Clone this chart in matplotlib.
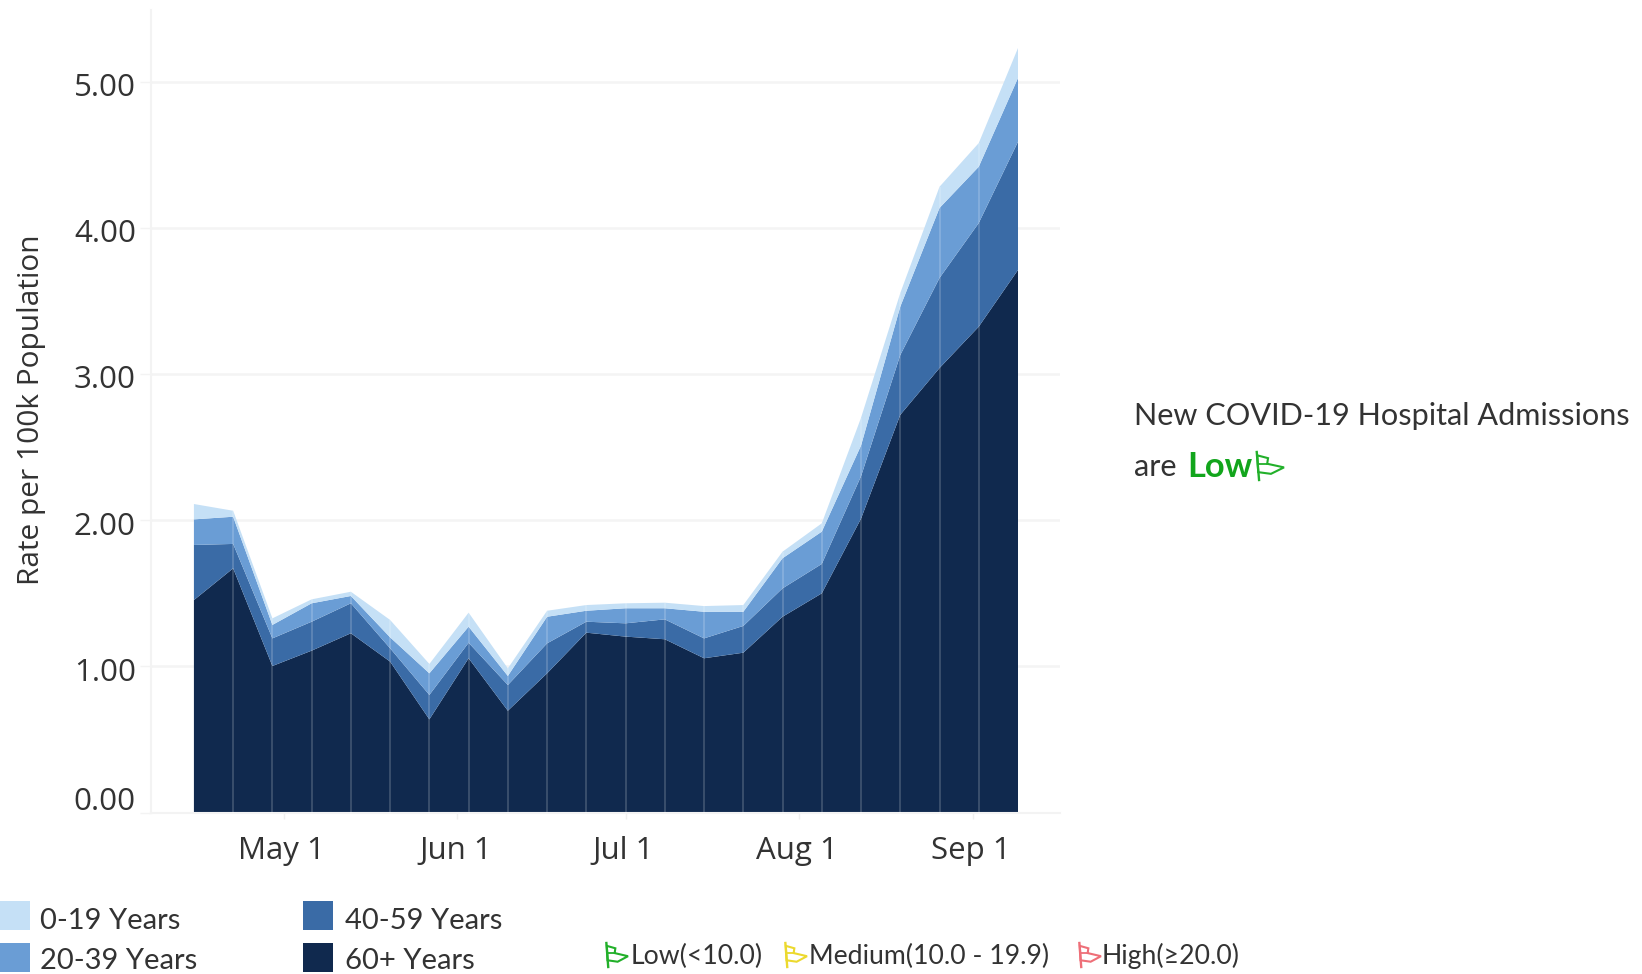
import numpy as np
import pandas as pd
import matplotlib
matplotlib.use("Agg")
import matplotlib.pyplot as plt
import matplotlib.dates as mdates
from matplotlib.lines import Line2D
from matplotlib.patches import Rectangle, Polygon
from matplotlib.transforms import ScaledTranslation

W, H = 1642, 974
weeks = pd.date_range("2023-04-15", periods=22, freq="7D")
age_60 = [1.453,1.670,1.002,1.107,1.226,1.032,0.637,1.055,0.696,0.952,1.230,1.203,1.185,1.055,1.093,1.339,1.499,2.010,2.720,3.040,3.323,3.711]
age_40 = [0.377,0.167,0.189,0.198,0.205,0.091,0.167,0.106,0.176,0.205,0.075,0.091,0.136,0.136,0.183,0.194,0.201,0.290,0.409,0.616,0.709,0.877]
age_20 = [0.175,0.186,0.092,0.126,0.050,0.075,0.148,0.110,0.062,0.182,0.075,0.103,0.076,0.182,0.097,0.206,0.221,0.210,0.331,0.479,0.385,0.436]
age_0 = [0.105,0.041,0.045,0.027,0.029,0.119,0.064,0.096,0.052,0.041,0.039,0.034,0.038,0.039,0.046,0.045,0.057,0.190,0.093,0.145,0.162,0.205]
y_ticks = [0, 1, 2, 3, 4, 5]
x_ticks = ["2023-05-01", "2023-06-01", "2023-07-01", "2023-08-01", "2023-09-01"]
x_labels = ["May 1", "Jun 1", "Jul 1", "Aug 1", "Sep 1"]
legend_names = ["0-19 Years", "20-39 Years", "40-59 Years", "60+ Years"]
colors = {"0": "#c5e0f6", "20": "#6a9dd5", "40": "#3a6ba6", "60": "#10294e"}
TXT = "#333333"
FONT = "Open Sans"

fig = plt.figure(figsize=(W / 100, H / 100), dpi=100, facecolor="white")
ax_l, ax_r, ax_t, ax_b = 151, 1060, 10, 812.5
ax = fig.add_axes([ax_l / W, 1 - ax_b / H, (ax_r - ax_l) / W, (ax_b - ax_t) / H])

ax.stackplot(weeks, age_60, age_40, age_20, age_0,
             colors=[colors["60"], colors["40"], colors["20"], colors["0"]],
             linewidth=0, zorder=2)
totals = np.sum([age_60, age_40, age_20, age_0], axis=0)
ax.vlines(weeks[1:-1], 0, totals[1:-1], color="white", alpha=0.2, lw=1.2, zorder=3)

px_day = 5.606
x_end = mdates.date2num(weeks[-1])
ax.set_xlim(x_end - (1018 - ax_l) / px_day, x_end + (ax_r - 1018) / px_day)
ax.set_ylim(0, (ax_b - ax_t) / 146.2)

ax.set_yticks(y_ticks)
ax.set_yticklabels([f"{v:.2f}" for v in y_ticks], fontsize=22.5, color=TXT, family=FONT)
ax.set_xticks(pd.to_datetime(x_ticks))
ax.set_xticklabels(x_labels, fontsize=22.5, color=TXT, family=FONT)
ax.tick_params(axis="y", length=8, width=1, color="#f3f3f3", pad=0)
ax.tick_params(axis="x", length=4, width=1, color="#efefef", pad=13)


def nudge(label, dx, dy):
    label.set_transform(label.get_transform()
                        + ScaledTranslation(dx / 100, dy / 100, fig.dpi_scale_trans))


for tick, dy in zip(ax.yaxis.get_major_ticks(), [14, -3, -3, -3, -3, -3]):
    nudge(tick.label1, -4, dy)
for tick in ax.xaxis.get_major_ticks():
    nudge(tick.label1, -2, 0)

ax.grid(axis="y", color="#f4f4f4", lw=1.8, zorder=0)
ax.set_axisbelow(True)
for s in ["top", "right"]:
    ax.spines[s].set_visible(False)
for s in ["left", "bottom"]:
    ax.spines[s].set_color("#f3f3f3")
    ax.spines[s].set_linewidth(1.5)


def t(x, y, s, **kw):
    kw.setdefault("color", TXT)
    kw.setdefault("family", FONT)
    kw.setdefault("va", "center")
    return fig.text(x / W, 1 - y / H, s, **kw)


def flag(x, y, w, h, color):
    """Pennant icon: x,y is the top-left corner in pixels."""
    def P(a, b):
        return ((x + a * w) / W, 1 - (y + b * h) / H)
    fig.add_artist(Line2D(*zip(P(0.06, 0.0), P(0.14, 1.0)), color=color, lw=1.7,
                          transform=fig.transFigure))
    fig.add_artist(Polygon([P(0.08, 0.12), P(0.45, 0.22), P(0.42, 0.42), P(1.0, 0.55),
                            P(0.55, 0.78), P(0.11, 0.72)], closed=True, fill=False,
                           edgecolor=color, lw=1.5, transform=fig.transFigure))
    fig.add_artist(Line2D(*zip(P(0.10, 0.42), P(0.42, 0.42)), color=color, lw=1.3,
                          transform=fig.transFigure))


t(32, 410, "Rate per 100k Population", rotation=90, ha="center", fontsize=21.5)

# age legend
swatches = [(0, 900.5, colors["0"]), (0, 942.5, colors["20"]),
            (303, 900.5, colors["40"]), (303, 942.5, colors["60"])]
labels_pos = [(40, 921), (40, 961), (344.5, 921), (344.5, 961)]
for (sx, sy, c), (lx, ly), name in zip(swatches, labels_pos, legend_names):
    fig.add_artist(Rectangle((sx / W, 1 - (sy + 29.5) / H), 29.5 / W, 29.5 / H,
                             color=c, transform=fig.transFigure, lw=0))
    t(lx, ly, name, fontsize=21, family="Lato")

# level legend
GREEN, YELLOW, RED = "#22b02a", "#ecd92e", "#ee6f78"
for fx, tx, c, s in [(605, 631, GREEN, "Low(<10.0)"),
                     (784, 809, YELLOW, "Medium(10.0 - 19.9)"),
                     (1078, 1102, RED, "High(≥20.0)")]:
    flag(fx, 943, 23, 24, c)
    t(tx, 956, s, fontsize=19.2, family="Lato")

# status text: size chosen so the line spans the reference's width
status = t(1134, 416, "New COVID-19 Hospital Admissions", fontsize=24, family="Lato")
fig.canvas.draw()
size = 24 * 497 / status.get_window_extent().width
status.set_fontsize(size)
t(1134, 467, "are", fontsize=size, family="Lato")
t(1187, 467, "Low", fontsize=size * 1.12, family="Lato", weight="bold", color="#12a51c")
flag(1255, 452, 29, 28, GREEN)

fig.savefig("out.png", dpi=100, facecolor="white")
